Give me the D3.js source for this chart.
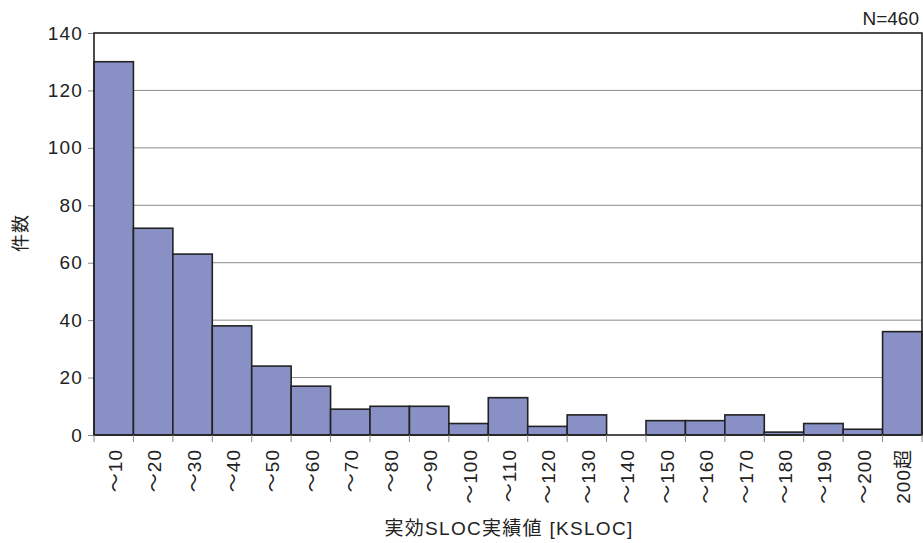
<!DOCTYPE html>
<html><head><meta charset="utf-8">
<script src="https://cdn.jsdelivr.net/npm/d3@7"></script>
<style>
body{margin:0;background:#fff;}
text{font-family:"Liberation Sans","Noto Sans CJK JP",sans-serif;fill:#222;}
</style></head><body>
<svg id="c" width="923" height="543"></svg>
<script>
const categories = ["～10","～20","～30","～40","～50","～60","～70","～80","～90","～100","～110","～120","～130","～140","～150","～160","～170","～180","～190","～200","200超"];
const counts = [130,72,63,38,24,17,9,10,10,4,13,3,7,0,5,5,7,1,4,2,36];
const yTicks = [0,20,40,60,80,100,120,140];
const yTitle = "件数";
const xTitle = "実効SLOC実績値 [KSLOC]";
const note = "N=460";

const m = {l:94, r:922, t:33, b:435};
const svg = d3.select("#c");
const x = d3.scaleBand().domain(categories).range([m.l, m.r]).padding(0);
const y = d3.scaleLinear().domain([0,140]).range([m.b, m.t]);

// gridlines
svg.append("g").selectAll("line").data(yTicks.filter(d=>d>0 && d<140)).join("line")
  .attr("x1", m.l).attr("x2", m.r).attr("y1", d=>y(d)).attr("y2", d=>y(d))
  .attr("stroke", "#8a8a8a").attr("stroke-width", 1);

// y axis
const ya = svg.append("g").attr("transform", `translate(${m.l},0)`)
  .call(d3.axisLeft(y).tickValues(yTicks).tickSize(6).tickPadding(5));
ya.select(".domain").remove();
ya.selectAll("line").attr("stroke", "#888");
ya.selectAll("text").attr("font-size", 19).attr("letter-spacing", 1.2)
  .style("font-family", '"Liberation Sans",sans-serif').attr("fill","#222");

// bars
svg.append("g").selectAll("rect").data(categories).join("rect")
  .attr("x", d=>x(d)).attr("width", x.bandwidth())
  .attr("y", (d,i)=>y(counts[i])).attr("height", (d,i)=>m.b - y(counts[i]))
  .attr("fill", "#8990c6").attr("stroke", "#222").attr("stroke-width", 1.6);

// frame
svg.append("rect").attr("x", m.l).attr("y", m.t).attr("width", m.r-m.l).attr("height", m.b-m.t)
  .attr("fill","none").attr("stroke","#222").attr("stroke-width",1.6);

// x ticks at boundaries
const bounds = categories.map(d=>x(d)).concat([m.r]);
svg.append("g").selectAll("line").data(bounds).join("line")
  .attr("x1", d=>d).attr("x2", d=>d).attr("y1", m.b).attr("y2", m.b+7)
  .attr("stroke", "#888").attr("stroke-width", 1);

// x labels rotated
svg.append("g").selectAll("text").data(categories).join("text")
  .attr("transform", d=>`translate(${x(d)+x.bandwidth()/2+8},${m.b+14}) rotate(-90)`)
  .attr("text-anchor", "end").attr("font-size", 19).attr("letter-spacing", 1).text(d=>d);

// titles
svg.append("text").attr("transform", `translate(27,233) rotate(-90)`)
  .attr("text-anchor","middle").attr("font-size",18).attr("letter-spacing",1).text(yTitle);
svg.append("text").attr("x", 509).attr("y", 535).attr("text-anchor","middle")
  .attr("font-size",19).attr("letter-spacing",1.3).text(xTitle);
svg.append("text").attr("x", 919).attr("y", 25).attr("text-anchor","end")
  .attr("font-size",19).text(note);
</script></body></html>
